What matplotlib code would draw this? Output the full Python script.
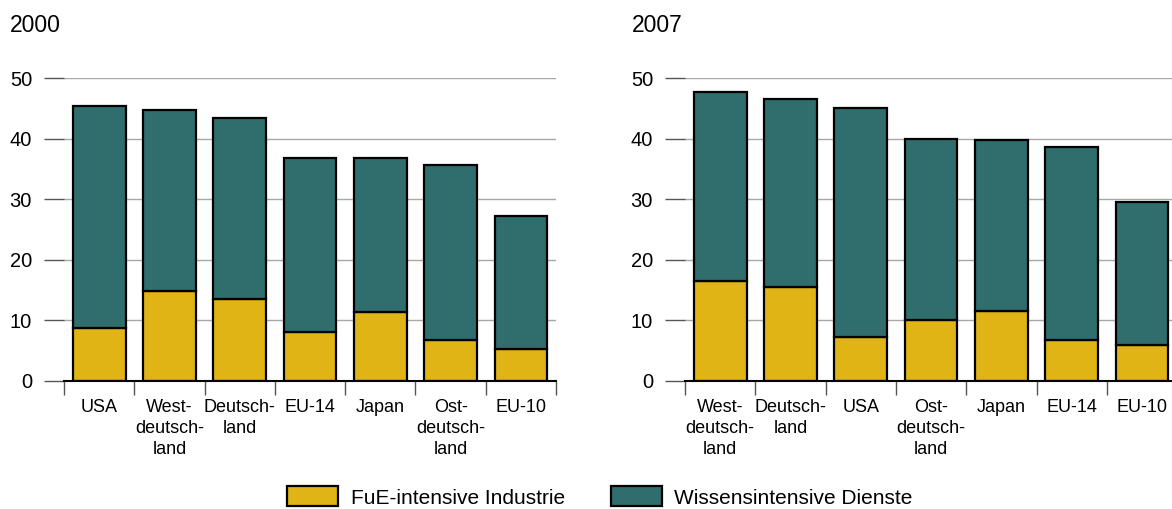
import matplotlib
matplotlib.use("Agg")
import matplotlib.pyplot as plt
from matplotlib.patches import Patch
import numpy as np

plt.rcParams['font.family'] = ['Liberation Sans', 'DejaVu Sans']

# Data
cats_2000 = ["USA", "West-\ndeutsch-\nland", "Deutsch-\nland", "EU-14", "Japan", "Ost-\ndeutsch-\nland", "EU-10"]
fue_2000 = [8.8, 14.9, 13.6, 8.1, 11.4, 6.7, 5.3]
total_2000 = [45.3, 44.8, 43.4, 36.85, 36.8, 35.7, 27.3]

cats_2007 = ["West-\ndeutsch-\nland", "Deutsch-\nland", "USA", "Ost-\ndeutsch-\nland", "Japan", "EU-14", "EU-10"]
fue_2007 = [16.5, 15.5, 7.3, 10.0, 11.6, 6.8, 6.0]
total_2007 = [47.7, 46.5, 45.0, 40.0, 39.7, 38.6, 29.5]

titles = ["2000", "2007"]
series_names = ["FuE-intensive Industrie", "Wissensintensive Dienste"]
yticks = [0, 10, 20, 30, 40, 50]

YELLOW = "#E0B414"
TEAL = "#2F6E6D"

W, H = 1172, 509
fig = plt.figure(figsize=(W / 100, H / 100), dpi=100)

panels = [
    (cats_2000, fue_2000, total_2000, 64),
    (cats_2007, fue_2007, total_2007, 685),
]

ybot, ytop = 381, 78
for i, (cats, fue, tot, x0) in enumerate(panels):
    width_px = 7 * 70.3
    ax = fig.add_axes([x0 / W, (H - ybot) / H, width_px / W, (ybot - ytop) / H])
    x = np.arange(len(cats))
    wis = [t - f for t, f in zip(tot, fue)]
    ax.bar(x, fue, width=0.75, color=YELLOW, edgecolor="black", linewidth=1.6, zorder=3)
    ax.bar(x, wis, bottom=fue, width=0.75, color=TEAL, edgecolor="black", linewidth=1.6, zorder=3)
    ax.set_xlim(-0.5, len(cats) - 0.5)
    ax.set_ylim(0, 50)
    ax.set_yticks(yticks)
    ax.set_yticklabels([str(v) for v in yticks], fontsize=14.5)
    ax.tick_params(axis='y', length=14.4, width=1, color="#555555", pad=8.6, labelcolor="black")
    ax.grid(axis='y', color="#a8a8a8", linewidth=1, zorder=0)
    ax.set_xticks(x)
    ax.set_xticklabels(cats, fontsize=13, linespacing=1.3)
    ax.tick_params(axis='x', length=0, pad=13)
    ax.set_xticks(np.arange(-0.5, len(cats), 1.0), minor=True)
    ax.tick_params(axis='x', which='minor', length=10, width=1, color="#555555")
    for s in ["left", "right", "top"]:
        ax.spines[s].set_visible(False)
    ax.spines["bottom"].set_linewidth(1.5)
    ax.spines["bottom"].set_color("black")
    ax.spines["bottom"].set_zorder(4)
    fig.text((10 if i == 0 else 632) / W, 1 - 25 / H, titles[i], fontsize=16.5, va="center", ha="left")

handles = [Patch(facecolor=YELLOW, edgecolor="black", linewidth=1.6),
           Patch(facecolor=TEAL, edgecolor="black", linewidth=1.6)]
fig.legend(handles, series_names, loc="center", bbox_to_anchor=(600 / W, 1 - 497 / H), ncol=2,
           frameon=False, fontsize=15, handlelength=2.45, handleheight=1.1,
           handletextpad=0.6, columnspacing=2.2, borderpad=0)

fig.savefig("out.png", dpi=100)
